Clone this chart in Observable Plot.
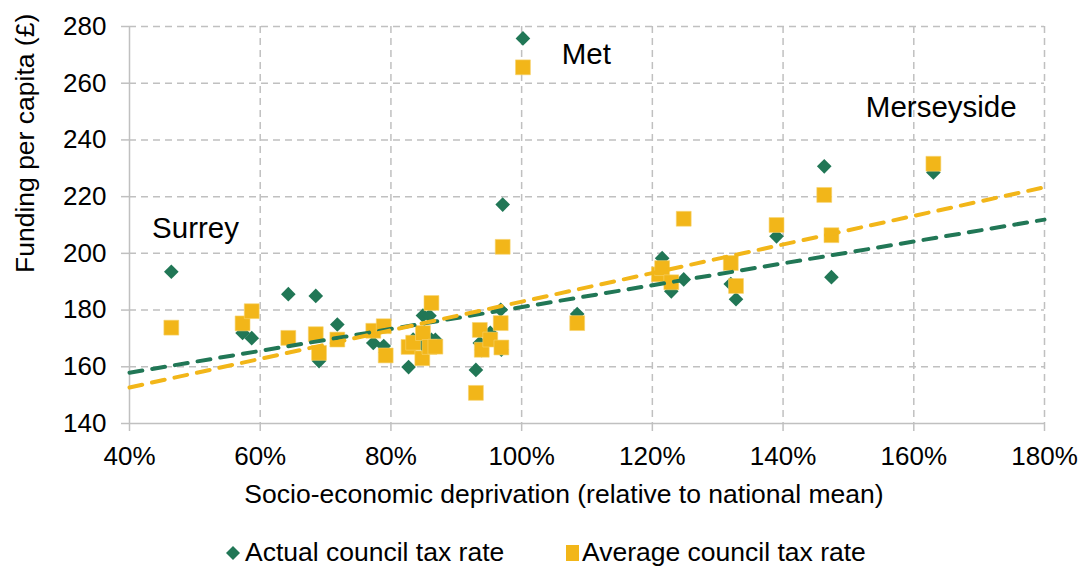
<!DOCTYPE html>
<html><head><meta charset="utf-8">
<script src="https://cdn.jsdelivr.net/npm/d3@7"></script>
<script src="https://cdn.jsdelivr.net/npm/@observablehq/plot@0.6"></script>
<style>
html,body{margin:0;padding:0;background:#fff;font-family:"Liberation Sans",Arial,sans-serif;}
#chart svg{display:block;}
#legend{position:relative;height:43px;width:1078px;font-size:26.5px;color:#000;}
#legend .item{position:absolute;top:14px;line-height:26px;white-space:nowrap;}
#legend svg{position:absolute;}
</style></head><body>
<div id="chart"></div>
<div id="legend"></div>
<script>
// Socio-economic deprivation (% of national mean) for each area
const deprivation = [46.4, 57.3, 58.7, 64.3, 68.5, 69.0, 71.8, 77.3, 78.9, 79.2,
  82.7, 83.4, 84.9, 84.8, 85.9, 86.2, 86.8, 93.0, 93.6, 93.9,
  95.2, 96.9, 96.8, 97.1, 100.2, 108.5, 121.0, 121.5, 122.9, 124.8,
  132.0, 132.8, 139.0, 146.3, 147.4, 163.0];
// Funding per capita (£) with actual council tax rate
const actualRate = [193.5, 171.9, 170.1, 185.6, 185.0, 162.0, 174.9, 168.4, 167.3, 165.0,
  159.9, 169.6, 178.1, 168.0, 178.0, 169.5, 169.5, 158.9, 168.4, 165.9,
  172.0, 166.0, 180.1, 217.2, 275.8, 178.6, 193.0, 198.3, 186.6, 190.8,
  189.2, 183.8, 206.0, 230.7, 191.6, 228.5];
// Funding per capita (£) with average council tax rate
const averageRate = [173.8, 175.3, 179.6, 170.2, 171.5, 164.9, 169.6, 172.7, 174.3, 164.0,
  167.0, 168.5, 171.9, 163.0, 167.0, 182.5, 167.1, 150.8, 173.0, 166.0,
  169.6, 166.8, 175.4, 202.3, 265.6, 175.4, 192.6, 194.8, 189.8, 212.2,
  196.6, 188.5, 210.0, 220.6, 206.4, 231.6];
// Linear trendlines (read at the ends of the axis)
const trendX = [40, 180];
const actualTrend = [157.9, 211.9];
const averageTrend = [152.7, 223.3];
// Tick values
const xTicks = [40, 60, 80, 100, 120, 140, 160, 180];
const yTicks = [140, 160, 180, 200, 220, 240, 260, 280];
// Annotations
const labelNames = ["Met", "Surrey", "Merseyside"];
const labelX = [109.9, 50.1, 164.2];
const labelY = [270.2, 208.7, 251.5];
const seriesNames = ["Actual council tax rate", "Average council tax rate"];
const xTitle = "Socio-economic deprivation (relative to national mean)";
const yTitle = "Funding per capita (£)";

const GREEN = "#217756", YELLOW = "#F2B619", GRID = "#c0c0c0";

const actualData = deprivation.map((x, i) => ({x, y: actualRate[i]}));
const averageData = deprivation.map((x, i) => ({x, y: averageRate[i]}));
const actualTrendData = trendX.map((x, i) => ({x, y: actualTrend[i]}));
const averageTrendData = trendX.map((x, i) => ({x, y: averageTrend[i]}));
const labels = labelNames.map((t, i) => ({t, x: labelX[i], y: labelY[i]}));

const chart = Plot.plot({
  width: 1078, height: 525,
  marginLeft: 129, marginRight: 34, marginTop: 26, marginBottom: 102,
  style: {fontFamily: "Liberation Sans, Arial, sans-serif", fontSize: "26px", background: "#fff", color: "#000", overflow: "visible"},
  x: {domain: [40, 180]},
  y: {domain: [140, 280]},
  marks: [
    Plot.gridY(yTicks.slice(1), {stroke: GRID, strokeOpacity: 1, strokeWidth: 1.5, strokeDasharray: "7,5"}),
    Plot.gridX(xTicks.slice(1), {stroke: GRID, strokeOpacity: 1, strokeWidth: 1.5, strokeDasharray: "7,5"}),
    Plot.ruleX([40], {stroke: GRID, strokeWidth: 1.5}),
    Plot.ruleY([140], {stroke: GRID, strokeWidth: 1.5}),
    Plot.axisY(yTicks, {tickSize: 8, tickPadding: 15, stroke: GRID, strokeOpacity: 1, strokeWidth: 1.5, fill: "#000", fontSize: 26, label: null}),
    Plot.axisX(xTicks, {tickSize: 8, tickPadding: 15, stroke: GRID, strokeOpacity: 1, strokeWidth: 1.5, fill: "#000", fontSize: 26, tickFormat: d => d + "%", label: null}),
    Plot.dot(actualData, {x: "x", y: "y", symbol: "diamond2", r: 6.6, fill: GREEN, stroke: "none"}),
    Plot.dot(averageData, {x: "x", y: "y", symbol: "square", r: 8.4, fill: YELLOW, stroke: "#f7d36f", strokeWidth: 0.6}),
    Plot.line(actualTrendData, {x: "x", y: "y", stroke: GREEN, strokeWidth: 4, strokeDasharray: "13,10", strokeLinecap: "round"}),
    Plot.line(averageTrendData, {x: "x", y: "y", stroke: YELLOW, strokeWidth: 4, strokeDasharray: "13,10", strokeLinecap: "round"}),
    Plot.text(labels, {x: "x", y: "y", text: "t", fontSize: 29.5, fill: "#000"}),
    Plot.text([xTitle], {frameAnchor: "bottom", dy: 79, dx: -23, fontSize: 26.5, fill: "#000"}),
    Plot.text([yTitle], {frameAnchor: "left", dx: -104, dy: 48, rotate: -90, fontSize: 26.5, fill: "#000"})
  ]
});
document.getElementById("chart").appendChild(chart);

// Legend
const legend = document.getElementById("legend");
legend.innerHTML =
  `<svg width="14" height="14" style="left:226px;top:21px"><path d="M7,0L14,7L7,14L0,7Z" fill="${GREEN}"/></svg>` +
  `<span class="item" style="left:245px">${seriesNames[0]}</span>` +
  `<svg width="13" height="16" style="left:566px;top:20px"><rect width="13" height="16" fill="${YELLOW}"/></svg>` +
  `<span class="item" style="left:582px">${seriesNames[1]}</span>`;
</script>
</body></html>
